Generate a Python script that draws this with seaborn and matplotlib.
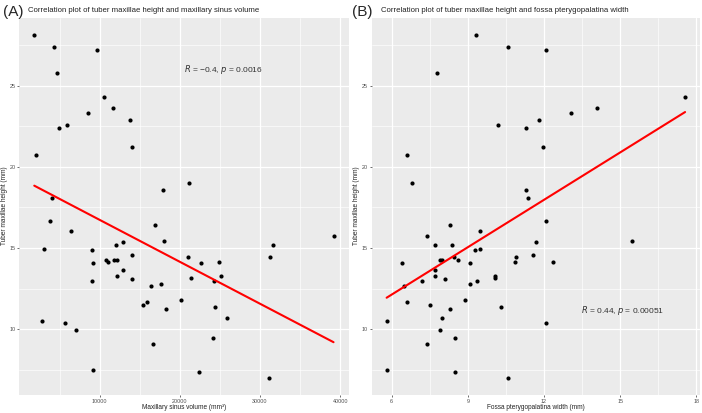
import numpy as np
import pandas as pd
import matplotlib
matplotlib.use("Agg")
import matplotlib.pyplot as plt
import seaborn as sns

# panel A: maxillary sinus volume (mm3) vs tuber maxillae height (mm)
sinus_volume = [1820, 4310, 9630, 4650, 10540, 11700, 8470, 4900, 5930, 13735,
                13980, 1990, 21170, 17840, 4060,
                3810, 3070, 6390, 16930, 18000, 8970, 9210, 8970, 10790, 11040,
                11780, 12200, 12030, 12860, 14020, 12950, 12120, 13980, 16350, 17590,
                15940, 15440, 18250, 20080, 21040, 21330, 22570, 24820, 25150, 24230,
                24400, 25900, 24100, 16690, 2740, 5640, 6975, 9210, 22410, 31130,
                31290, 31620, 39170]
sinus_height = [28.1, 27.4, 27.2, 25.8, 24.3, 23.6, 23.3, 22.4, 22.6, 22.9,
                21.2, 20.7, 19.0, 18.6, 18.1,
                16.65, 14.96, 16.08, 16.45, 15.45, 14.88, 14.06, 12.98, 14.26, 14.16,
                14.26, 14.26, 15.17, 15.37, 14.57, 13.67, 13.29, 13.08, 12.67, 12.78,
                11.71, 11.49, 11.28, 11.8, 14.43, 13.18, 14.06, 14.16, 13.27, 12.98,
                11.39, 10.7, 9.5, 9.1, 10.49, 10.39, 9.98, 7.51, 7.41, 7.02,
                14.45, 15.17, 15.75]

# panel B: fossa pterygopalatina width (mm) vs tuber maxillae height (mm)
fossa_width = [9.33, 10.58, 12.08, 7.79, 17.56, 14.07, 13.07, 10.18, 11.28, 11.79,
               11.97, 6.59, 6.80, 11.28, 11.38,
               7.40, 8.29, 9.46, 12.08, 7.70, 8.39, 11.67, 15.48, 9.49, 9.28,
               8.47, 6.39, 7.89, 8.00, 8.60, 10.90, 10.87, 11.57, 12.37, 9.09,
               7.70, 7.70, 8.09, 7.19, 9.38, 10.08, 10.08, 6.48, 9.09, 6.59,
               8.89, 7.49, 8.29, 10.29, 8.00, 5.80, 12.08, 7.89, 8.50, 7.40,
               5.80, 8.50, 10.59]
fossa_height = [28.1, 27.4, 27.2, 25.8, 24.3, 23.6, 23.3, 22.6, 22.4, 22.9,
                21.2, 20.7, 19.0, 18.6, 18.1,
                15.75, 16.45, 16.08, 16.65, 15.17, 15.17, 15.37, 15.45, 14.96, 14.88,
                14.45, 14.06, 14.26, 14.26, 14.26, 14.43, 14.16, 14.57, 14.16, 14.06,
                13.67, 13.29, 13.08, 12.98, 12.98, 13.27, 13.18, 12.67, 12.78, 11.71,
                11.8, 11.49, 11.28, 11.39, 10.7, 10.49, 10.39, 9.98, 9.5, 9.1,
                7.51, 7.41, 7.02]

panels = [
    dict(x=sinus_volume, y=sinus_height, tag="(A)",
         title="Correlation plot of tuber maxillae height and maxillary sinus volume",
         xlabel="Maxillary sinus volume (mm³)",
         major=[10000, 20000, 30000, 40000], minor=[5000, 15000, 25000, 35000],
         stat=("-0.4", "0.0016"), stat_pos=(20500, 26.0)),
    dict(x=fossa_width, y=fossa_height, tag="(B)",
         title="Correlation plot of tuber maxillae height and fossa pterygopalatina width",
         xlabel="Fossa pterygopalatina width (mm)",
         major=[6, 9, 12, 15, 18], minor=[7.5, 10.5, 13.5, 16.5],
         stat=("0.44", "0.00051"), stat_pos=(13.45, 11.15)),
]

sns.set_theme(style="darkgrid")
plt.rcParams["font.family"] = ["Liberation Sans", "DejaVu Sans"]

fig = plt.figure(figsize=(7.02, 4.13), dpi=100)
W, H = 702, 413
boxes = [(19.3, 348.5), (371.7, 700.0)]
top, bottom = 18, 395
tag_x = [3, 352]
title_x = [28, 381]
ylab_x = [5, 357]

for i, p in enumerate(panels):
    x0, x1 = boxes[i]
    ax = fig.add_axes([x0 / W, (H - bottom) / H, (x1 - x0) / W, (bottom - top) / H])
    ax.set_facecolor("#EBEBEB")
    df = pd.DataFrame({"x": p["x"], "y": p["y"]})
    sns.regplot(data=df, x="x", y="y", ax=ax, ci=None, color="black",
                scatter_kws=dict(s=9, linewidths=0, alpha=1, zorder=3),
                line_kws=dict(color="#FF0000", lw=1.5, zorder=4))
    xr = df["x"].max() - df["x"].min()
    yr = df["y"].max() - df["y"].min()
    ax.set_xlim(df["x"].min() - 0.05 * xr, df["x"].max() + 0.05 * xr)
    ax.set_ylim(df["y"].min() - 0.05 * yr, df["y"].max() + 0.05 * yr)
    ax.set_xticks(p["major"])
    ax.set_xticks(p["minor"], minor=True)
    ax.set_yticks([10, 15, 20, 25])
    ax.set_yticks([7.5, 12.5, 17.5, 22.5, 27.5], minor=True)
    ax.grid(which="major", color="white", lw=0.9)
    ax.grid(which="minor", color="white", lw=0.45)
    ax.set_axisbelow(True)
    for s in ax.spines.values():
        s.set_visible(False)
    ax.tick_params(which="major", length=1.5, width=0.5, color="#333333",
                   labelsize=3.9, labelcolor="#4D4D4D", pad=1.2,
                   bottom=True, left=True)
    ax.tick_params(which="minor", length=0)
    ax.set_xlabel("")
    ax.set_ylabel("")

    r, pv = p["stat"]
    ax.text(p["stat_pos"][0], p["stat_pos"][1],
            "$\\it{R}$ = " + r.replace("-", "\u2212") + ", $\\it{p}$ = " + pv,
            fontsize=6.0, color="#333333", ha="left", va="center")

    fig.text(tag_x[i] / W, 1 - 12 / H, p["tag"], fontsize=11, ha="left", va="center")
    fig.text(title_x[i] / W, 1 - 10 / H, p["title"], fontsize=5.6, ha="left",
             va="center", color="#222222")
    fig.text((x0 + x1) / 2 / W, 1 - 407.5 / H, p["xlabel"], fontsize=4.7,
             ha="center", va="center", color="#222222")
    fig.text(ylab_x[i] / W, 1 - 206 / H, "Tuber maxillae height (mm)", fontsize=4.7,
             rotation=90, ha="center", va="center", color="#222222")

fig.savefig("out.png", dpi=100)
